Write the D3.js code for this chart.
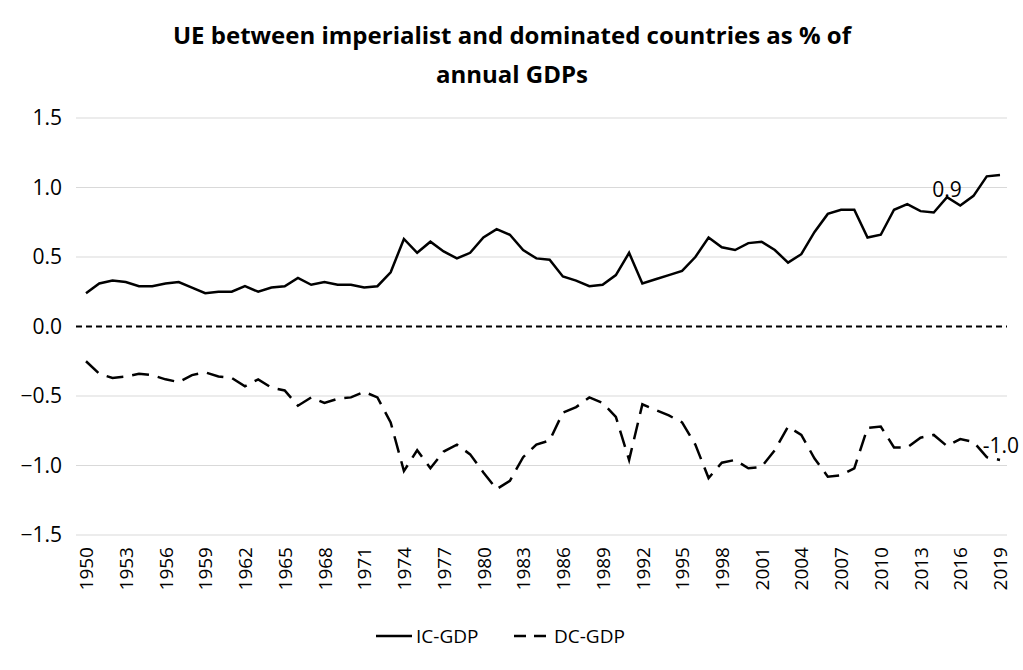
<!DOCTYPE html>
<html><head><meta charset="utf-8">
<script src="https://cdn.jsdelivr.net/npm/d3@7"></script>
<style>body{margin:0;background:#fff}text{font-family:"Open Sans","Liberation Sans",sans-serif}</style>
</head><body><svg id="chart" width="1023" height="670"></svg>
<script>
var years = d3.range(1950, 2020);
var icGdp = [0.24,0.31,0.33,0.32,0.29,0.29,0.31,0.32,0.28,0.24,0.25,0.25,0.29,0.25,0.28,0.29,0.35,0.30,0.32,0.30,0.30,0.28,0.29,0.39,0.63,0.53,0.61,0.54,0.49,0.53,0.64,0.70,0.66,0.55,0.49,0.48,
  0.36,0.33,0.29,0.30,0.37,0.53,0.31,0.34,0.37,0.40,0.50,0.64,0.57,0.55,0.60,0.61,0.55,0.46,0.52,0.68,0.81,0.84,0.84,0.64,0.66,0.84,0.88,0.83,0.82,0.93,0.87,0.94,1.08,1.09];
var dcGdp = [-0.25,-0.34,-0.37,-0.36,-0.34,-0.35,-0.38,-0.40,-0.35,-0.33,-0.36,-0.37,-0.43,-0.38,-0.44,-0.46,-0.57,-0.51,-0.55,-0.52,-0.51,-0.47,-0.51,-0.69,-1.04,-0.89,-1.02,-0.90,-0.85,-0.92,-1.05,-1.17,-1.11,-0.94,-0.85,-0.82,
  -0.62,-0.58,-0.51,-0.55,-0.65,-0.96,-0.56,-0.60,-0.64,-0.69,-0.85,-1.09,-0.98,-0.96,-1.02,-1.01,-0.89,-0.72,-0.78,-0.95,-1.08,-1.07,-1.02,-0.73,-0.72,-0.87,-0.87,-0.80,-0.78,-0.86,-0.81,-0.83,-0.94,-0.96];
var yTicks = [1.5, 1.0, 0.5, 0.0, -0.5, -1.0, -1.5];
var xTickYears = years.filter(function(y){ return (y - 1950) % 3 === 0; });

var svg = d3.select("#chart");
var x = d3.scaleLinear().domain([1950, 2019]).range([86, 1000]);
var y = d3.scaleLinear().domain([-1.5, 1.5]).range([535, 118]);

svg.append("text").attr("x", 512).attr("y", 44).attr("text-anchor", "middle")
  .style("font-size", "24px").style("font-weight", "bold")
  .text("UE between imperialist and dominated countries as % of");
svg.append("text").attr("x", 512).attr("y", 83).attr("text-anchor", "middle")
  .style("font-size", "24px").style("font-weight", "bold").text("annual GDPs");

// gridlines
svg.selectAll(".grid").data(yTicks.filter(function(d){ return d !== 0; })).enter().append("line")
  .attr("x1", 76).attr("x2", 1007).attr("y1", function(d){ return y(d); }).attr("y2", function(d){ return y(d); })
  .attr("stroke", "#d9d9d9").attr("stroke-width", 1);
svg.append("line").attr("x1", 76).attr("x2", 1007).attr("y1", y(0)).attr("y2", y(0))
  .attr("stroke", "#000").attr("stroke-width", 2).attr("stroke-dasharray", "6,4");

var yAxis = svg.append("g").attr("transform", "translate(76,0)")
  .call(d3.axisLeft(y).tickValues(yTicks).tickFormat(d3.format(".1f")).tickSize(0).tickPadding(14));
yAxis.select(".domain").remove();
yAxis.selectAll("text").style("font-size", "21px").attr("fill", "#000");

var xAxis = svg.append("g").attr("transform", "translate(0,543)")
  .call(d3.axisBottom(x).tickValues(xTickYears).tickFormat(d3.format("d")).tickSize(0));
xAxis.select(".domain").remove();
xAxis.selectAll("text").style("font-size", "19px").attr("fill", "#000")
  .attr("transform", "rotate(-90)").attr("text-anchor", "end").attr("x", -4).attr("y", 0).attr("dy", "0.35em");

var line = d3.line().x(function(d, i){ return x(years[i]); }).y(function(d){ return y(d); });
svg.append("path").datum(icGdp).attr("d", line).attr("fill", "none").attr("stroke", "#000").attr("stroke-width", 2.5);
svg.append("path").datum(dcGdp).attr("d", line).attr("fill", "none").attr("stroke", "#000").attr("stroke-width", 2.5)
  .attr("stroke-dasharray", "17,9");

svg.append("text").attr("x", x(2015)).attr("y", y(0.9) - 4).attr("text-anchor", "middle").style("font-size", "21px").text("0.9");
svg.append("text").attr("x", x(2019) + 19).attr("y", y(-0.9) + 1).attr("text-anchor", "end").style("font-size", "21px").text("-1.0");

// legend
var legend = svg.append("g").attr("transform", "translate(0,636)");
legend.append("line").attr("x1", 376).attr("x2", 412).attr("stroke", "#000").attr("stroke-width", 2.5);
legend.append("text").attr("x", 416).attr("dy", "0.35em").style("font-size", "19px").text("IC-GDP");
legend.append("line").attr("x1", 514).attr("x2", 550).attr("stroke", "#000").attr("stroke-width", 2.5).attr("stroke-dasharray", "12,8");
legend.append("text").attr("x", 554).attr("dy", "0.35em").style("font-size", "19px").text("DC-GDP");
</script></body></html>
